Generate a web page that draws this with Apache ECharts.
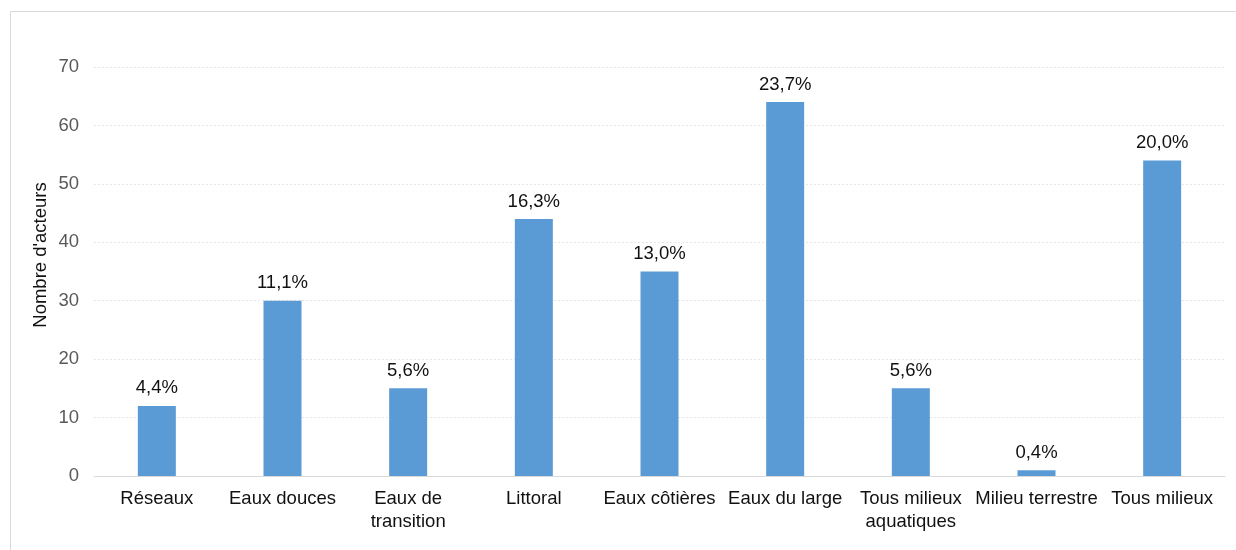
<!DOCTYPE html>
<html><head><meta charset="utf-8">
<script src="https://cdn.jsdelivr.net/npm/echarts@6/dist/echarts.min.js"></script>
<style>html,body{margin:0;padding:0;background:#fff}#c{width:1236px;height:550px}</style>
</head><body><div id="c"></div>
<script>
const categories = ['Réseaux','Eaux douces','Eaux de\ntransition','Littoral','Eaux côtières','Eaux du large','Tous milieux\naquatiques','Milieu terrestre','Tous milieux'];
const values = [12, 30, 15, 44, 35, 64, 15, 1, 54];
const pctLabels = ['4,4%','11,1%','5,6%','16,3%','13,0%','23,7%','5,6%','0,4%','20,0%'];
const yTicks = [0,10,20,30,40,50,60,70];
const yTitle = "Nombre d'acteurs";

const FONT = 'Liberation Sans, Arial, sans-serif';
const chart = echarts.init(document.getElementById('c'), null, {renderer:'canvas'});
chart.setOption({
  backgroundColor:'#fff',
  animation:false,
  graphic:[
    {type:'rect',shape:{x:10.5,y:11.5,width:1240,height:560},style:{fill:'none',stroke:'#d9d9d9',lineWidth:1}},
    {type:'text',x:41,y:255,rotation:Math.PI/2,
      style:{text:yTitle,fill:'#111',font:'18.5px '+FONT,align:'center',verticalAlign:'middle'}}
  ],
  grid:{left:94,right:11,top:67,bottom:74},
  xAxis:{type:'category',data:categories,
    axisLine:{lineStyle:{color:'#d9d9d9',width:1}},axisTick:{show:false},
    axisLabel:{color:'#111',fontFamily:FONT,fontSize:18.5,interval:0,lineHeight:23,margin:11}},
  yAxis:{type:'value',min:yTicks[0],max:yTicks[yTicks.length-1],interval:10,
    axisLine:{show:false},axisTick:{show:false},
    axisLabel:{color:'#595959',fontFamily:FONT,fontSize:18.5,margin:15},
    splitLine:{lineStyle:{color:'#e6e6e6',type:[2,2],width:1}}},
  series:[{type:'bar',data:values,barWidth:38,
    itemStyle:{color:'#5b9bd5'},
    label:{show:true,position:'top',distance:8,color:'#111',fontFamily:FONT,fontSize:18.5,
      formatter:p=>pctLabels[p.dataIndex]}}]
});
</script></body></html>
